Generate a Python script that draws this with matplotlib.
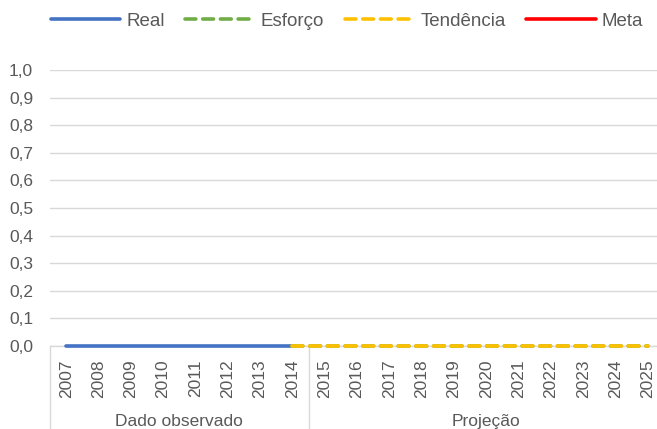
import matplotlib
matplotlib.use("Agg")
import matplotlib.pyplot as plt
import numpy as np

years = [str(y) for y in range(2007, 2026)]
real = [0, 0, 0, 0, 0, 0, 0, 0] + [np.nan] * 11
esforco = [np.nan] * 7 + [0] * 12
tendencia = [np.nan] * 7 + [0] * 12
meta = [np.nan] * 19
yticks = [0.0, 0.1, 0.2, 0.3, 0.4, 0.5, 0.6, 0.7, 0.8, 0.9, 1.0]
groups = ["Dado observado", "Projeção"]
group_sizes = [8, 11]

plt.rcParams['font.family'] = ['Liberation Sans', 'DejaVu Sans']
txt = '#595959'
grid = '#D9D9D9'

W, H = 657, 429
fig = plt.figure(figsize=(W / 100, H / 100), dpi=100)
left, right, bottom, top = 50, 664, 346, 70
ax = fig.add_axes([left / W, (H - bottom) / H, (right - left) / W, (bottom - top) / H])

x = np.arange(len(years))
lw = 2.6
lr, = ax.plot(x, real, color='#4472C4', lw=lw, solid_capstyle='round', label='Real', zorder=3, clip_on=False)
le, = ax.plot(x, esforco, color='#70AD47', lw=lw, dashes=(3.0, 1.9), dash_capstyle='round', label='Esforço', zorder=4, clip_on=False)
lt, = ax.plot(x, tendencia, color='#FFC000', lw=lw, dashes=(3.0, 1.9), dash_capstyle='round', label='Tendência', zorder=5, clip_on=False)
lm, = ax.plot(x, meta, color='#FF0000', lw=lw, solid_capstyle='round', label='Meta', zorder=6, clip_on=False)

fs = 12.5
ax.set_xlim(-0.5, len(years) - 0.5)
ax.set_ylim(0, 1.0)
ax.set_yticks(yticks)
ax.set_yticklabels([f"{v:.1f}".replace('.', ',') for v in yticks], color=txt, fontsize=fs)
ax.set_xticks(x)
ax.set_xticklabels(years, rotation=90, color=txt, fontsize=fs)
ax.tick_params(axis='both', length=0)
ax.tick_params(axis='y', pad=12.2)
ax.tick_params(axis='x', pad=9.5)
ax.grid(axis='y', color=grid, lw=1.0)
ax.set_axisbelow(True)
for s in ['top', 'right', 'left']:
    ax.spines[s].set_visible(False)
ax.spines['bottom'].set_color(grid)
ax.spines['bottom'].set_linewidth(1.0)

# multi-level category axis
trans = ax.get_xaxis_transform()
start = -0.5
bounds = [start]
for g, n in zip(groups, group_sizes):
    end = start + n
    ax.text((start + end) / 2, -0.275, g, transform=trans, ha='center', va='center',
            color=txt, fontsize=fs, clip_on=False)
    bounds.append(end)
    start = end
for b in bounds:
    ax.plot([b, b], [0, -0.35], transform=trans, color=grid, lw=1.0, clip_on=False)

fig.legend(handles=[lr, le, lt, lm], loc='center', bbox_to_anchor=(347 / W, 1 - 21 / H),
           ncol=4, frameon=False, fontsize=13.5, handlelength=3.7, handletextpad=0.32,
           columnspacing=1.1, labelcolor=txt, borderpad=0)

fig.savefig('out.png', dpi=100)
